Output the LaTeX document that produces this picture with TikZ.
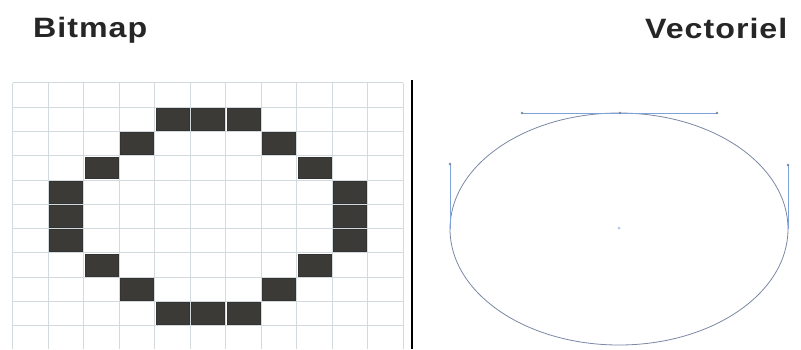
\documentclass[tikz,border=0pt]{standalone}
\usepackage{fontspec}
\newfontfamily\titolo[FakeStretch=1.15, LetterSpace=3.5]{Liberation Sans}

\definecolor{grigliacol}{HTML}{D3DADD}
\definecolor{pixelcol}{HTML}{3B3A36}
\definecolor{curvacol}{HTML}{7A88A4}
\definecolor{manigliacol}{HTML}{7FA2DA}

\begin{document}
\begin{tikzpicture}[x=1pt, y=-1pt]
        \useasboundingbox (0,0) rectangle (801,349);

        % Stili
        \tikzset{
            titolo/.style={font=\titolo\bfseries\fontsize{28}{32}\selectfont, anchor=base west, inner sep=0pt, text=black!85},
            griglia/.style={draw=grigliacol, line width=0.7pt},
            pixel/.style={fill=pixelcol, draw=black!80, line width=0.5pt},
            maniglia/.style={draw=manigliacol, line width=0.7pt},
            punto/.style={fill=curvacol, draw=none}
        }

        % Titoli
        \node[titolo] (bitmap) at (33, 37) {Bitmap};
        \node[titolo] (vectoriel) at (645, 38) {Vectoriel};

        % Griglia dei pixel: 11 colonne, 11 righe
        \foreach \i in {0,...,11} {
            \draw[griglia] ({12.7+\i*35.5}, 82.7) -- ({12.7+\i*35.5}, 349);
        }
        \foreach \j in {0,...,10} {
            \draw[griglia] (12.7, {82.7+\j*24.3}) -- (403.2, {82.7+\j*24.3});
        }

        % Pixel accesi (colonna/riga)
        \foreach \c/\r in {4/1,5/1,6/1,3/2,7/2,2/3,8/3,1/4,9/4,1/5,9/5,1/6,9/6,2/7,8/7,3/8,7/8,4/9,5/9,6/9} {
            \draw[pixel] ({12.7+\c*35.5+1.2}, {82.7+\r*24.3+1.2}) rectangle ({12.7+(\c+1)*35.5-1.2}, {82.7+(\r+1)*24.3-1.2});
        }

        % Separatore
        \draw[line width=2.2pt] (412, 80) -- (412, 349);

        % Ellisse vettoriale
        \draw[curvacol, line width=0.8pt] (619, 229) ellipse [x radius=169, y radius=116];

        % Maniglie di Bezier
        \draw[maniglia] (522, 113) -- (717, 113);
        \draw[maniglia] (450, 164) -- (450, 229);
        \draw[maniglia] (788, 165) -- (788, 229);
        \foreach \p in {(522,113), (620,113), (717,113), (450,164), (788,165)} {
            \fill[punto] \p circle (1.3);
        }

        % Centro
        \fill[manigliacol!60] (619, 228) circle (1.5);

    \end{tikzpicture}
\end{document}
